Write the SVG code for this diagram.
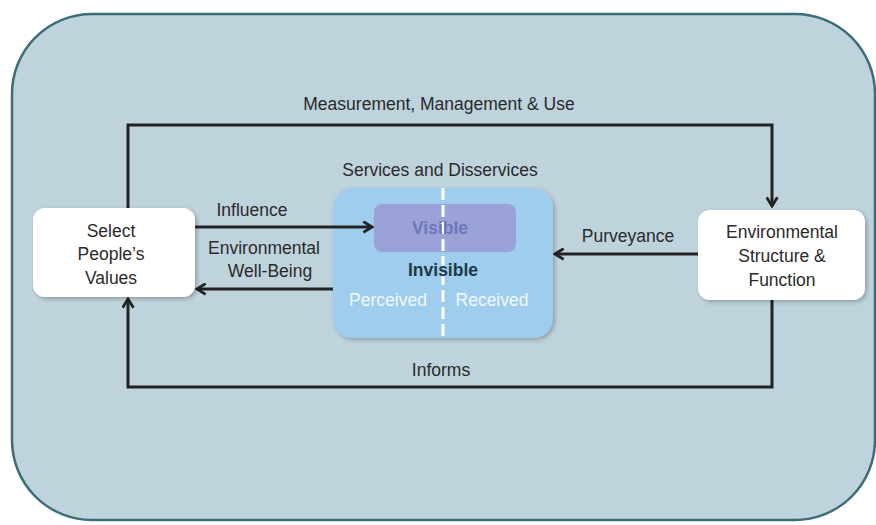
<svg xmlns="http://www.w3.org/2000/svg" width="876" height="525" viewBox="0 0 876 525">
<defs>
<marker id="arr" viewBox="0 0 12 12" refX="10" refY="6" markerWidth="13" markerHeight="13" markerUnits="userSpaceOnUse" orient="auto">
<path d="M2,1 L10,6 L2,11" fill="none" stroke="#222" stroke-width="2.6" stroke-linejoin="miter"/>
</marker>
<filter id="sh" x="-10%" y="-10%" width="130%" height="130%"><feDropShadow dx="2" dy="2" stdDeviation="2" flood-color="#000" flood-opacity="0.25"/></filter>
</defs>
<style>
text{font-family:"Liberation Sans",Arial,sans-serif;font-size:17.5px;fill:#2a2a2a;text-anchor:middle}
.conn{fill:none;stroke:#222;stroke-width:3}
.node{fill:#fff;filter:url(#sh)}
.w{fill:#f2f8fc}
</style>
<rect x="12" y="14" width="863" height="506" rx="80" fill="#bfd3dd" stroke="#3d6e78" stroke-width="2.5"/>
<g id="services">
<text x="440" y="176">Services and Disservices</text>
<rect x="333" y="188" width="220" height="150" rx="20" fill="#9fcdee" filter="url(#sh)"/>
<rect x="374" y="204" width="142" height="48" rx="8" fill="#9aa2d8"/>
<line x1="443" y1="188" x2="443" y2="338" stroke="#fff" stroke-width="3" stroke-dasharray="12,5"/>
<text x="440" y="234" style="fill:#6f76ba;font-weight:bold">Visible</text>
<text x="443" y="276" style="fill:#1f3a44;font-weight:bold">Invisible</text>
<text x="388" y="306" class="w">Perceived</text>
<text x="492" y="306" class="w">Received</text>
</g>
<g id="connectors">
<path class="conn" d="M128,208 L128,125 L772,125 L772,206" marker-end="url(#arr)"/>
<path class="conn" d="M772,300 L772,387 L128,387 L128,299" marker-end="url(#arr)"/>
<path class="conn" d="M195,227 L372,227" marker-end="url(#arr)"/>
<path class="conn" d="M333,289 L197,289" marker-end="url(#arr)"/>
<path class="conn" d="M698,254 L555,254" marker-end="url(#arr)"/>
<text x="439" y="110">Measurement, Management &amp; Use</text>
<text x="252" y="216">Influence</text>
<text x="264" y="254">Environmental</text>
<text x="270" y="277">Well-Being</text>
<text x="628" y="242">Purveyance</text>
<text x="441" y="376">Informs</text>
</g>
<g id="select">
<rect class="node" x="33" y="208" width="162" height="89" rx="12"/>
<text x="111" y="237">Select</text>
<text x="111" y="260">People’s</text>
<text x="111" y="284">Values</text>
</g>
<g id="env">
<rect class="node" x="698" y="210" width="167" height="90" rx="12"/>
<text x="782" y="238">Environmental</text>
<text x="782" y="262">Structure &amp;</text>
<text x="782" y="286">Function</text>
</g>
</svg>
